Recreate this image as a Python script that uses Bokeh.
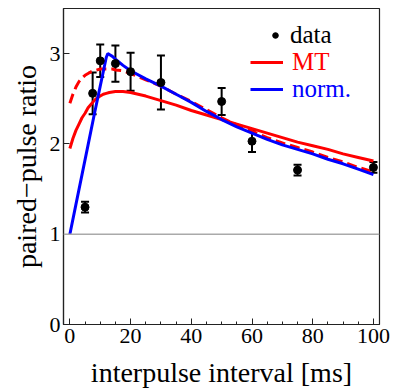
from bokeh.plotting import figure
from bokeh.models import (ColumnDataSource, Whisker, TeeHead, Legend, LegendItem,
                          SingleIntervalTicker, FixedTicker, Span, Range1d)
from bokeh.embed import file_html
from bokeh.resources import INLINE

# ---- data ----
data_x = [5, 7.5, 10, 15, 20, 30, 50, 60, 75, 100]
data_y = [1.30, 2.56, 2.92, 2.89, 2.80, 2.68, 2.47, 2.03, 1.71, 1.74]
data_err = [0.06, 0.23, 0.18, 0.20, 0.21, 0.30, 0.15, 0.12, 0.06, 0.06]

curve_x = [0, 1, 2, 3, 4, 5, 6, 7, 8, 9, 10, 11, 12, 13, 14, 15, 17.5, 20, 25, 30,
           35, 40, 45, 50, 55, 60, 65, 70, 75, 80, 85, 90, 95, 100]
mt_y = [1.95, 2.06, 2.15, 2.22, 2.29, 2.34, 2.40, 2.44, 2.48, 2.51, 2.53, 2.55, 2.56,
        2.57, 2.575, 2.58, 2.58, 2.57, 2.53, 2.48, 2.43, 2.37, 2.32, 2.27, 2.22, 2.17,
        2.12, 2.07, 2.02, 1.98, 1.94, 1.89, 1.85, 1.81]
mt_dash_y = [2.45, 2.55, 2.63, 2.69, 2.73, 2.76, 2.78, 2.80, 2.81, 2.82, 2.83, 2.83,
             2.83, 2.83, 2.83, 2.82, 2.81, 2.78, 2.71, 2.64, 2.55, 2.47, 2.38, 2.29,
             2.21, 2.14, 2.07, 2.01, 1.96, 1.91, 1.85, 1.80, 1.74, 1.69]

norm_x = [0, 2, 4, 6, 8, 10, 11, 12, 12.5, 13, 14, 15, 17.5, 20, 25, 30, 35, 40, 45,
          50, 55, 60, 65, 70, 75, 80, 85, 90, 95, 100]
norm_y = [1.00, 1.33, 1.66, 1.99, 2.32, 2.64, 2.80, 2.96, 3.00, 2.99, 2.97, 2.94,
          2.87, 2.81, 2.72, 2.64, 2.55, 2.46, 2.36, 2.27, 2.19, 2.12, 2.05, 1.99,
          1.94, 1.89, 1.83, 1.78, 1.72, 1.66]

x_ticks_interval = 20
y_ticks = [0, 1, 2, 3]
baseline_value = 1

FONT = "Liberation Serif"

p = figure(width=395, height=392, output_backend="svg", toolbar_location=None,
           x_range=Range1d(-2.1, 102), y_range=Range1d(0, 3.5),
           min_border_left=63, min_border_right=16, min_border_top=8,
           min_border_bottom=68)
p.background_fill_color = "white"
p.border_fill_color = "white"
p.xgrid.visible = False
p.ygrid.visible = False
p.outline_line_color = "#222222"
p.outline_line_width = 1.2

p.add_layout(Span(location=baseline_value, dimension="width",
                  line_color="#aaaaaa", line_width=1.5))

mt_r = p.line(curve_x, mt_y, line_color="#ff0000", line_width=3)
p.line(curve_x, mt_dash_y, line_color="#ff0000", line_width=3, line_dash="10 5")
norm_r = p.line(norm_x, norm_y, line_color="#0000ff", line_width=3)

src = ColumnDataSource(dict(
    x=data_x, y=data_y,
    lo=[v - e for v, e in zip(data_y, data_err)],
    hi=[v + e for v, e in zip(data_y, data_err)],
))
w = Whisker(source=src, base="x", lower="lo", upper="hi",
            line_color="black", line_width=2,
            upper_head=TeeHead(size=8, line_width=2, line_color="black"),
            lower_head=TeeHead(size=8, line_width=2, line_color="black"))
p.add_layout(w)
data_r = p.scatter("x", "y", source=src, size=8, color="black")

# axes
for ax in (p.xaxis[0], p.yaxis[0]):
    ax.axis_line_color = "#222222"
    ax.axis_line_width = 1.2
    ax.major_tick_line_color = "#222222"
    ax.minor_tick_line_color = "#222222"
    ax.major_tick_in = 6
    ax.major_tick_out = 0
    ax.minor_tick_in = 3
    ax.minor_tick_out = 0
    ax.major_label_text_font = FONT
    ax.major_label_text_font_size = "22px"
    ax.major_label_text_color = "black"
    ax.axis_label_text_font = FONT
    ax.axis_label_text_font_size = "28px"
    ax.axis_label_text_font_style = "normal"
    ax.axis_label_text_color = "black"

p.xaxis.ticker = SingleIntervalTicker(interval=x_ticks_interval, num_minor_ticks=4)
p.yaxis.ticker = FixedTicker(ticks=y_ticks, minor_ticks=[])
p.xaxis.axis_label = "interpulse interval [ms]"
p.yaxis.axis_label = "paired\u2212pulse ratio"
p.xaxis.major_label_standoff = 4
p.yaxis.major_label_standoff = 3
p.xaxis.axis_label_standoff = 11
p.yaxis.axis_label_standoff = 5

# legends (one per entry so each label keeps its colour)
def make_legend(label, rend, color, loc, gw, standoff):
    lg = Legend(items=[LegendItem(label=label, renderers=[rend])],
                location=loc, orientation="vertical",
                glyph_width=gw, glyph_height=28, label_height=28,
                label_standoff=standoff, padding=0, margin=0, spacing=0,
                border_line_color=None, background_fill_alpha=0,
                label_text_font=FONT, label_text_font_size="25px",
                label_text_font_style="normal",
                label_text_color=color)
    p.add_layout(lg, "center")

make_legend("data", data_r, "black", (205, 275), 14, 8)
make_legend("MT", mt_r, "#ff0000", (187, 248), 33, 9)
make_legend("norm.", norm_r, "#0000ff", (187, 221), 33, 9)

open("out.html", "w").write(file_html(p, INLINE))
